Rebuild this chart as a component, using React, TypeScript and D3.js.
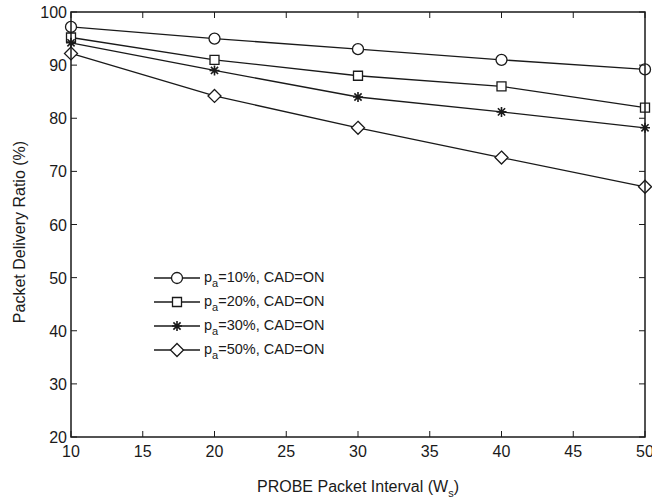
import React, { useEffect } from 'react';
import * as d3 from 'd3';

const INTERVALS = [10, 20, 30, 40, 50];
const SERIES_NAMES = ['10%', '20%', '30%', '50%'];
const PA10 = [97.2, 95, 93, 91, 89.2];
const PA20 = [95.2, 91, 88, 86, 82];
const PA30 = [94.2, 89, 84, 81.2, 78.2];
const PA50 = [92.2, 84.2, 78.2, 72.6, 67.1];
const MARKERS = ['circle', 'square', 'star', 'diamond'];
const X_TICKS = [10, 15, 20, 25, 30, 35, 40, 45, 50];
const Y_TICKS = [20, 30, 40, 50, 60, 70, 80, 90, 100];

const WIDTH = 652;
const HEIGHT = 502;
const PLOT = { left: 71, right: 645, top: 12, bottom: 437 };
const INK = '#1a1a1a';
const FONT = '"Liberation Sans", Arial, Helvetica, sans-serif';
const TICK = 6;

function markerPath(kind: string, cx: number, cy: number): string {
  if (kind === 'circle') {
    const r = 5.5;
    return `M${cx - r},${cy}a${r},${r} 0 1,0 ${2 * r},0a${r},${r} 0 1,0 ${-2 * r},0Z`;
  }
  if (kind === 'square') {
    const h = 4.5;
    return `M${cx - h},${cy - h}h${2 * h}v${2 * h}h${-2 * h}Z`;
  }
  if (kind === 'diamond') {
    const h = 6.5;
    return `M${cx},${cy - h}L${cx + h},${cy}L${cx},${cy + h}L${cx - h},${cy}Z`;
  }
  // asterisk: four crossing strokes
  const h = 5;
  const d = h * 0.72;
  return `M${cx - h},${cy}H${cx + h}M${cx},${cy - h}V${cy + h}M${cx - d},${cy - d}L${cx + d},${cy + d}M${cx - d},${cy + d}L${cx + d},${cy - d}`;
}

export default function App() {
  useEffect(() => {
    document.body.style.margin = '0';
  }, []);

  const x = d3.scaleLinear().domain([10, 50]).range([PLOT.left, PLOT.right]);
  const y = d3.scaleLinear().domain([20, 100]).range([PLOT.bottom, PLOT.top]);
  const seriesValues = [PA10, PA20, PA30, PA50];

  const line = d3
    .line<number>()
    .x((_, i) => x(INTERVALS[i]))
    .y((v) => y(v));

  const legendX0 = 154;
  const legendX1 = 200;
  const legendY = [278, 302, 326, 350];

  return (
    <svg width={WIDTH} height={HEIGHT} style={{ display: 'block', background: '#fff' }} fontFamily={FONT}>
      {/* series lines */}
      {seriesValues.map((vals, s) => (
        <path key={`l${s}`} d={line(vals) || ''} fill="none" stroke={INK} strokeWidth={1.3} />
      ))}
      {/* markers */}
      {seriesValues.map((vals, s) =>
        vals.map((v, i) => (
          <path
            key={`m${s}-${i}`}
            d={markerPath(MARKERS[s], x(INTERVALS[i]), y(v))}
            fill={MARKERS[s] === 'star' ? 'none' : '#fff'}
            stroke={INK}
            strokeWidth={MARKERS[s] === 'star' ? 1.6 : 1.3}
          />
        ))
      )}

      {/* frame */}
      <rect
        x={PLOT.left}
        y={PLOT.top}
        width={PLOT.right - PLOT.left}
        height={PLOT.bottom - PLOT.top}
        fill="none"
        stroke={INK}
        strokeWidth={1.5}
      />

      {/* x ticks */}
      {X_TICKS.map((t) => (
        <g key={`xt${t}`}>
          <line x1={x(t)} x2={x(t)} y1={PLOT.bottom} y2={PLOT.bottom - TICK} stroke={INK} strokeWidth={1} />
          <line x1={x(t)} x2={x(t)} y1={PLOT.top} y2={PLOT.top + TICK} stroke={INK} strokeWidth={1} />
          <text x={x(t)} y={PLOT.bottom + 20} textAnchor="middle" fontSize={16} fill={INK}>
            {t}
          </text>
        </g>
      ))}

      {/* y ticks */}
      {Y_TICKS.map((t) => (
        <g key={`yt${t}`}>
          <line x1={PLOT.left} x2={PLOT.left + TICK} y1={y(t)} y2={y(t)} stroke={INK} strokeWidth={1} />
          <line x1={PLOT.right} x2={PLOT.right - TICK} y1={y(t)} y2={y(t)} stroke={INK} strokeWidth={1} />
          <text x={PLOT.left - 4} y={y(t) + 6} textAnchor="end" fontSize={16} fill={INK}>
            {t}
          </text>
        </g>
      ))}

      {/* axis titles */}
      <text x={358} y={492} textAnchor="middle" fontSize={16} fill={INK}>
        PROBE Packet Interval (W
        <tspan fontSize={11} dy={5}>s</tspan>
        <tspan dy={-5}>)</tspan>
      </text>
      <text
        transform={`translate(25,${232}) rotate(-90)`}
        textAnchor="middle"
        fontSize={16}
        fill={INK}
      >
        Packet Delivery Ratio (%)
      </text>

      {/* legend */}
      {SERIES_NAMES.map((name, s) => {
        const ly = legendY[s];
        const mx = (legendX0 + legendX1) / 2;
        return (
          <g key={`lg${s}`}>
            <line x1={legendX0} x2={legendX1} y1={ly} y2={ly} stroke={INK} strokeWidth={1.3} />
            <path
              d={markerPath(MARKERS[s], mx, ly)}
              fill={MARKERS[s] === 'star' ? 'none' : '#fff'}
              stroke={INK}
              strokeWidth={MARKERS[s] === 'star' ? 1.6 : 1.3}
            />
            <text x={legendX1 + 4} y={ly + 4} fontSize={14.5} fill={INK}>
              p<tspan fontSize={11} dy={5}>a</tspan>
              <tspan dy={-5}>={name}, CAD=ON</tspan>
            </text>
          </g>
        );
      })}
    </svg>
  );
}
